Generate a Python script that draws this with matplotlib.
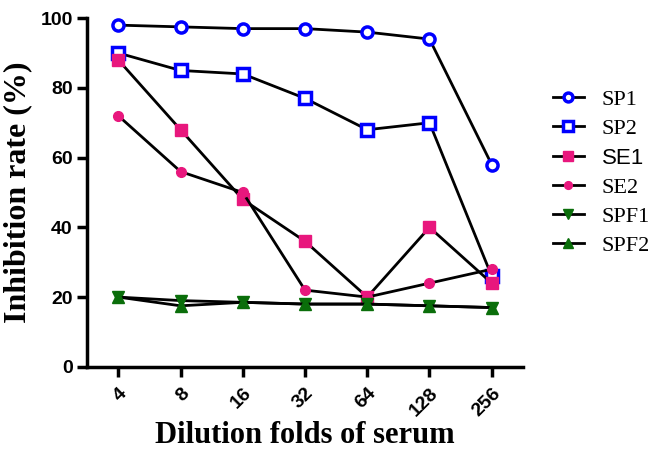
import matplotlib.pyplot as plt
from matplotlib.font_manager import FontProperties

dilutions = ['4', '8', '16', '32', '64', '128', '256']
sp1 = [98, 97.5, 97, 97, 96, 94, 58]
sp2 = [90, 85, 84, 77, 68, 70, 26]
se1 = [88, 68, 48, 36, 20, 40, 24]
se2 = [72, 56, 50, 22, 20, 24, 28]
spf1 = [20, 19, 18.5, 18, 18, 17.5, 17]
spf2 = [20, 17.5, 18.5, 18, 18, 17.5, 17]

blue = '#0000ff'
pink = '#e8177d'
green = '#0a6e0a'

fig = plt.figure(figsize=(6.56, 4.54), dpi=100)
ax = fig.add_axes([0.133, 0.192, 0.664, 0.768])
x = range(len(dilutions))

ax.plot(x, sp1, color='black', lw=2, marker='o', ms=8, mfc='white', mec=blue, mew=2.5, label='SP1', zorder=3)
ax.plot(x, sp2, color='black', lw=2, marker='s', ms=9, mfc='white', mec=blue, mew=2.5, label='SP2', zorder=3)
ax.plot(x, se1, color='black', lw=2, marker='s', ms=9, mfc=pink, mec=pink, label='SE1', zorder=3)
ax.plot(x, se2, color='black', lw=2, marker='o', ms=7, mfc=pink, mec=pink, label='SE2', zorder=3)
ax.plot(x, spf1, color='black', lw=2, marker='v', ms=9, mfc=green, mec=green, label='SPF1', zorder=3)
ax.plot(x, spf2, color='black', lw=2, marker='^', ms=9, mfc=green, mec=green, label='SPF2', zorder=3)

ax.set_xlim(-0.5, 6.5)
ax.set_ylim(0, 100)
ax.set_xticks(list(x))
ax.set_xticklabels(dilutions, rotation=45, ha='right', rotation_mode='anchor')
ax.set_yticks([0, 20, 40, 60, 80, 100])
for lab in ax.get_xticklabels() + ax.get_yticklabels():
    lab.set_family('Liberation Sans')
    lab.set_fontweight('bold')
    lab.set_fontsize(14)

for s in ['top', 'right']:
    ax.spines[s].set_visible(False)
for s in ['left', 'bottom']:
    ax.spines[s].set_linewidth(2.5)
ax.tick_params(width=2.5, length=7)
ax.tick_params(axis='x', pad=6)

ax.set_xlabel('Dilution folds of serum', family='Liberation Serif', fontweight='bold', fontsize=22, labelpad=1)
ax.set_ylabel('Inhibition rate (%)', family='Liberation Serif', fontweight='bold', fontsize=23, labelpad=6)

leg = ax.legend(loc='center left', bbox_to_anchor=(0.829, 0.62), bbox_transform=fig.transFigure,
                borderaxespad=0, frameon=False,
                prop=FontProperties(family='Liberation Serif', size=16),
                handlelength=1.4, handletextpad=0.8, labelspacing=0.38, markerscale=0.8)
leg.get_texts()[2].set_family('Liberation Sans')

fig.savefig('out.png', dpi=100)
